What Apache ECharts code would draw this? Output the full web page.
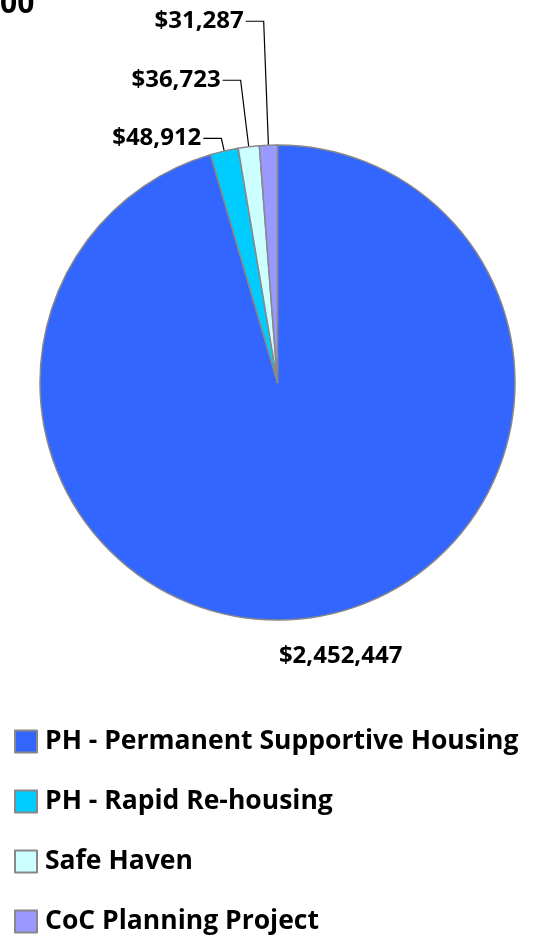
<!DOCTYPE html>
<html><head><meta charset="utf-8">
<script src="https://cdn.jsdelivr.net/npm/echarts@6/dist/echarts.min.js"></script>
<style>html,body{margin:0;padding:0;background:#fff}#c{width:555px;height:936px}</style>
</head><body><div id="c"></div>
<script>
const categories = ['PH - Permanent Supportive Housing','PH - Rapid Re-housing','Safe Haven','CoC Planning Project'];
const values = [2452447, 48912, 36723, 31287];
const colors = ['#3366FF','#00CCFF','#CCFFFF','#9999FF'];
const lineLengths = [39, 13, 67, 124];
const titleTail = '00';

const fmt = v => '$' + v.toLocaleString('en-US');
const FONT = 'Open Sans';
const chart = echarts.init(document.getElementById('c'), null, {renderer:'canvas'});
chart.setOption({
  animation:false,
  graphic:[{type:'text', left:0, top:-11, style:{text:titleTail, font:'bold 30px "Open Sans"', fill:'#000'}}],
  legend:{
    orient:'vertical', left:14, top:728, height:220, padding:0, itemWidth:22, itemHeight:22, itemGap:33,
    icon:'rect', selectedMode:false,
    textStyle:{fontFamily:FONT, fontWeight:700, fontSize:26.5, lineHeight:22, color:'#000', padding:[0,0,0,3]},
    data:categories
  },
  series:[{
    type:'pie', center:[277.5,382.5], radius:237.5, startAngle:90, clockwise:true,
    avoidLabelOverlap:false,
    itemStyle:{borderColor:'#888', borderWidth:1.5},
    label:{show:true, position:'outside', formatter:p=>fmt(p.value), fontFamily:FONT, fontWeight:700, fontSize:24, color:'#000', distanceToLabelLine:2},
    labelLine:{show:true, length2:18, lineStyle:{color:'#000', width:1.2}, smooth:false},
    labelLayout: p => p.dataIndex === 0 ? {dx:-40} : {},
    emphasis:{disabled:true},
    data: categories.map((c,i)=>({
      name:c, value:values[i], itemStyle:{color:colors[i]},
      labelLine: i===0 ? {show:false, length:lineLengths[i], length2:0} : {length:lineLengths[i]}
    }))
  }]
});
</script></body></html>
